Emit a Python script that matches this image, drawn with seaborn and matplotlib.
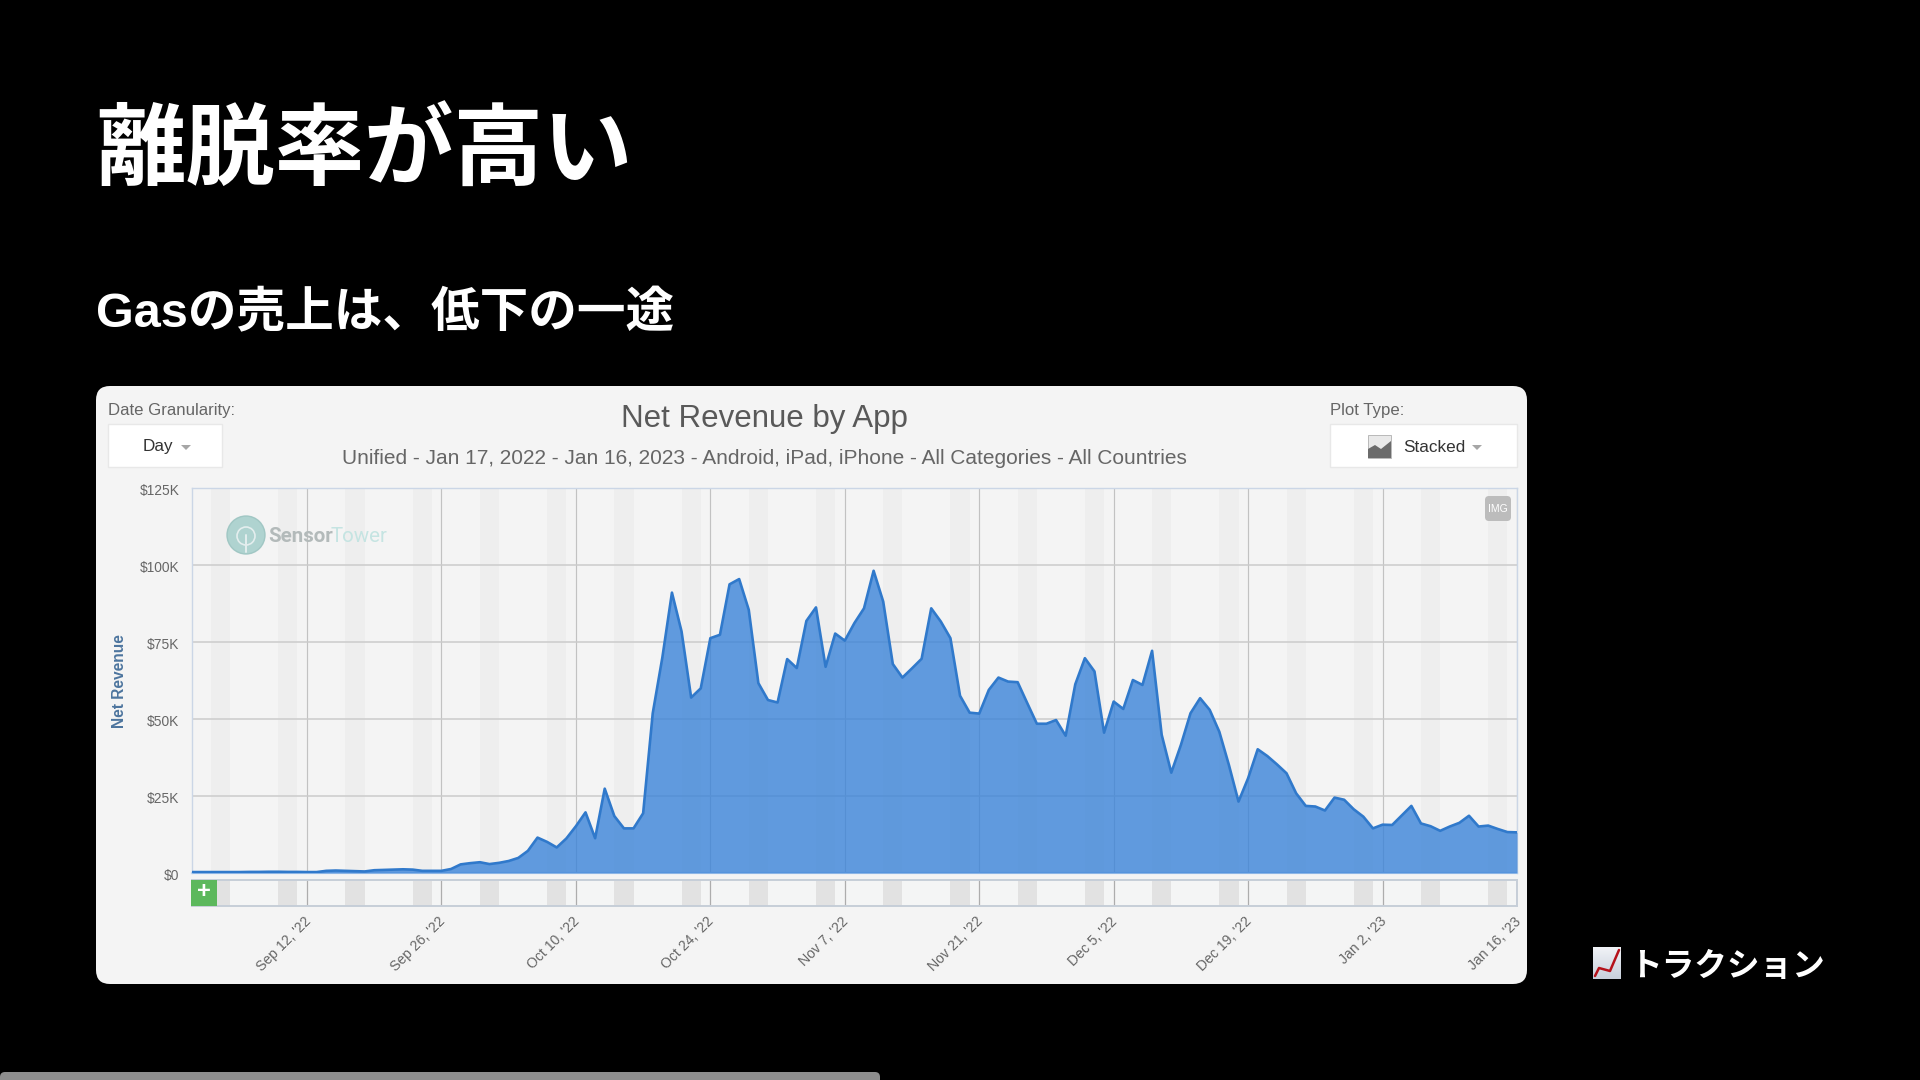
import matplotlib
matplotlib.use("Agg")
import numpy as np
import pandas as pd
import seaborn as sns
import matplotlib.pyplot as plt
import matplotlib.dates as mdates
from matplotlib.patches import FancyBboxPatch, Rectangle, Circle, Polygon
from matplotlib.ticker import FuncFormatter
from matplotlib.transforms import ScaledTranslation

# daily net revenue in $K, Aug 31 2022 .. Jan 16 2023
rev_aug_sep = [0.3, 0.3, 0.3, 0.3, 0.3, 0.3, 0.35, 0.35, 0.4, 0.4, 0.35, 0.35,
               0.3, 0.3, 0.7, 0.8, 0.7, 0.6, 0.5, 0.9, 1.0, 1.1, 1.2, 1.1, 0.7, 0.7, 0.7,
               1.3, 2.8, 3.2, 3.5]
rev_oct = [2.9, 3.3, 3.9, 4.9, 7.2, 11.5, 10.1, 8.3, 11.2, 15.2, 19.7, 11.3, 27.4, 18.5, 14.5, 14.5,
           19.4, 51.9, 70.0, 91.1, 78.5, 57.0, 60.0, 76.3, 77.4, 93.8, 95.5, 85.5, 61.7, 56.2, 55.4]
rev_nov = [69.5, 66.6, 81.9, 86.3, 67.0, 77.8, 75.5, 81.2, 86.0, 98.2, 88.2, 67.9, 63.5, 66.5, 69.6,
           86.0, 81.7, 76.3, 57.6, 52.1, 51.8, 59.5, 63.5, 62.2, 62.0, 55.2, 48.5, 48.5, 49.7, 44.6]
rev_dec = [61.3, 69.8, 65.5, 45.6, 55.7, 53.3, 62.7, 61.1, 72.2, 44.9, 32.6, 41.6, 51.9, 56.8, 53.0,
           45.9, 35.1, 23.2, 30.8, 40.2, 38.0, 35.3, 32.4, 25.9, 21.8, 21.6, 20.3, 24.5, 23.8, 20.7, 18.3]
rev_jan = [14.5, 15.7, 15.6, 18.7, 21.8, 16.1, 15.2, 13.7, 15.1, 16.3, 18.6, 15.1, 15.4, 14.3, 13.3, 13.2]

start_date = "2022-08-31"
end_date = "2023-01-16"
first_weekend = "2022-09-02"

y_ticks = [0, 25000, 50000, 75000, 100000, 125000]
x_ticks = ["2022-09-12", "2022-09-26", "2022-10-10", "2022-10-24", "2022-11-07",
           "2022-11-21", "2022-12-05", "2022-12-19", "2023-01-02", "2023-01-16"]
x_tick_labels = ["Sep 12, '22", "Sep 26, '22", "Oct 10, '22", "Oct 24, '22", "Nov 7, '22",
                 "Nov 21, '22", "Dec 5, '22", "Dec 19, '22", "Jan 2, '23", "Jan 16, '23"]

title = "離脱率が高い"
subtitle = "Gasの売上は、低下の一途"
section = "トラクション"
chart_title = "Net Revenue by App"
chart_sub = "Unified - Jan 17, 2022 - Jan 16, 2023 - Android, iPad, iPhone - All Categories - All Countries"

revenue = np.array(rev_aug_sep + rev_oct + rev_nov + rev_dec + rev_jan) * 1000
dates = pd.date_range(start_date, end_date, freq="D")
df = pd.DataFrame({"date": dates, "revenue": revenue})

sns.set_theme(style="white")
plt.rcParams["font.family"] = ["Liberation Sans", "DejaVu Sans"]
JP = ["Liberation Sans", "Noto Sans CJK JP", "DejaVu Sans"]

W, H = 1920, 1080
fig = plt.figure(figsize=(W / 100, H / 100), dpi=100, facecolor="black")


def px_axes(x0, y0, x1, y1, z):
    return fig.add_axes([x0 / W, 1 - y1 / H, (x1 - x0) / W, (y1 - y0) / H], zorder=z)


# full-figure layers in pixel coordinates, for the page furniture
bg = px_axes(0, 0, W, H, 0)
bg.set(xlim=(0, W), ylim=(H, 0))
bg.axis("off")
over = px_axes(0, 0, W, H, 3)
over.set(xlim=(0, W), ylim=(H, 0))
over.axis("off")

bg.add_patch(FancyBboxPatch((96, 386), 1431, 598, boxstyle="round,pad=0,rounding_size=14", lw=0, fc="#f4f4f4"))
bg.add_patch(FancyBboxPatch((0, 1072), 880, 14, boxstyle="round,pad=0,rounding_size=5", lw=0, fc="#8e8e8e"))

# main chart
ax = px_axes(191.8, 488.3, 1517, 873, 1)
ax.set_facecolor("none")
xlim = (mdates.date2num(dates[0]), mdates.date2num(dates[-1]))

sat_start = pd.date_range(first_weekend, end_date, freq="7D")
for d in sat_start:
    ax.axvspan(d, d + pd.Timedelta(days=2), color="#eeeeee", lw=0, zorder=0)

ax.fill_between(df["date"], df["revenue"], color="#3781d8", alpha=0.78, lw=0, zorder=3)
sns.lineplot(data=df, x="date", y="revenue", ax=ax, color="#3079cb", lw=1.9, zorder=4)

ax.set_xlim(xlim)
ax.set_ylim(0, 125000)
ax.set_xlabel("")
ax.set_ylabel("")
ax.set_yticks(y_ticks)
ax.yaxis.set_major_formatter(FuncFormatter(lambda v, p: "$0" if v == 0 else f"${v / 1000:.0f}K"))
ax.tick_params(axis="y", length=0, pad=9, labelsize=9.9, labelcolor="#666666")
ax.set_xticks(pd.to_datetime(x_ticks))
ax.tick_params(axis="x", length=0, labelbottom=False)
ax.grid(True, axis="y", color="#cbcbcb", lw=1.1, zorder=1)
ax.grid(True, axis="x", color="#c2c2c2", lw=0.85, zorder=1)
ax.set_axisbelow(True)
for s in ["left", "right", "top"]:
    ax.spines[s].set_color("#cbd6e6")
    ax.spines[s].set_linewidth(1.0)
ax.spines["bottom"].set_color("#c4d8ef")
ax.spines["bottom"].set_linewidth(1.6)
for lbl in ax.get_yticklabels():
    lbl.set_transform(lbl.get_transform() + ScaledTranslation(0, -1.2 / 100, fig.dpi_scale_trans))

# navigator strip under the chart
nav = px_axes(191.8, 880, 1517, 906, 1)
nav.set_facecolor("#f4f5f5")
for d in sat_start:
    nav.axvspan(d, d + pd.Timedelta(days=2), color="#e2e2e2", lw=0, zorder=0)
nav.set_xlim(xlim)
nav.set_ylim(0, 1)
nav.set_yticks([])
nav.set_xticks(pd.to_datetime(x_ticks))
nav.set_xticklabels(x_tick_labels, rotation=45, ha="right", va="top", rotation_mode="anchor",
                    fontsize=10.1, color="#666666")
nav.tick_params(axis="x", length=0, pad=6)
for lbl in nav.get_xticklabels():
    lbl.set_transform(lbl.get_transform() + ScaledTranslation(-3.5 / 100, 0, fig.dpi_scale_trans))
nav.grid(True, axis="x", color="#adadad", lw=0.9)
nav.set_axisbelow(True)
for s in nav.spines.values():
    s.set_color("#c6ced8")
    s.set_linewidth(1.4)

# slide text
over.text(96, 155, title, family=JP, weight="bold", fontsize=64.4, color="white", va="center", ha="left")
over.text(96, 314, subtitle, family=JP, weight="bold", fontsize=35, color="white", va="center", ha="left")
over.text(1629, 967.5, section, family=JP, weight="bold", fontsize=23.5, color="white", va="center", ha="left")

# chart icon beside the section label
grad = np.linspace(0, 1, 32).reshape(-1, 1)
over.imshow(grad, extent=(1593, 1621, 979, 947), cmap=matplotlib.colors.LinearSegmentedColormap.from_list("ic", ["#f1f3f7", "#c8d0dc"]),
            aspect="auto", zorder=2)
over.plot([1595, 1599, 1610, 1619], [976, 968, 971, 950], color="#b5121b", lw=1.8, zorder=3)
over.set(xlim=(0, W), ylim=(H, 0))

# chart header
over.text(764, 419, chart_title, fontsize=22.5, color="#595959", ha="center", va="center")
over.text(764, 458.5, chart_sub, fontsize=15.05, color="#666666", ha="center", va="center")
over.text(108, 410, "Date Granularity:", fontsize=12.1, color="#666666", ha="left", va="center")
over.text(1330, 410, "Plot Type:", fontsize=12.1, color="#666666", ha="left", va="center")
over.text(119, 681, "Net Revenue", weight="bold", fontsize=11.2, color="#4d759e",
          rotation=90, ha="center", va="center")

for x0, x1 in [(108, 222), (1330, 1517)]:
    bg.add_patch(Rectangle((x0, 424), x1 - x0, 43, fc="white", ec="#e8e8e8", lw=1))
over.text(158, 446, "Day", fontsize=12.3, color="#333333", ha="center", va="center")
over.text(1403, 447.5, "Stacked", fontsize=12.3, color="#333333", ha="left", va="center")
for cx in [186, 1477]:
    over.add_patch(Polygon([(cx - 5, 445), (cx + 5, 445), (cx, 450)], fc="#a6a6a6", lw=0))

# plot type icon
over.add_patch(Rectangle((1368, 435), 23, 23, fc="#e9e9e9", ec="#b0b0b0", lw=0.6))
over.add_patch(Polygon([(1368, 458), (1368, 449), (1375, 445), (1381, 449), (1391, 441), (1391, 458)], fc="#6b6b6b", lw=0))

# watermark
over.add_patch(Circle((246, 535), 19, fc="#a8d0cc", ec="#9cc4c1", lw=1, alpha=0.9))
over.add_patch(Circle((246, 536), 9, fc="none", ec="#e4eeee", lw=1.2))
over.plot([246, 246], [535, 552], color="#e4eeee", lw=1.4)
over.text(268, 536.5, "Sensor", family="Roboto", weight="bold", fontsize=14.8, color="#b3baba", ha="left", va="center")
over.text(331, 536.5, "Tower", family="Roboto", fontsize=14.8, color="#c5e4e2", ha="left", va="center")

# IMG button and navigator plus
over.add_patch(FancyBboxPatch((1485, 496), 26, 25, boxstyle="round,pad=0,rounding_size=4", fc="#bcbcbc", lw=0))
over.text(1498, 508.5, "IMG", fontsize=7.5, color="white", ha="center", va="center")
over.add_patch(Rectangle((191, 880), 26, 26, fc="#5cb85c", lw=0))
over.text(204, 892, "+", fontsize=17, weight="bold", color="white", ha="center", va="center")

fig.savefig("out.png", dpi=100, facecolor="black")
